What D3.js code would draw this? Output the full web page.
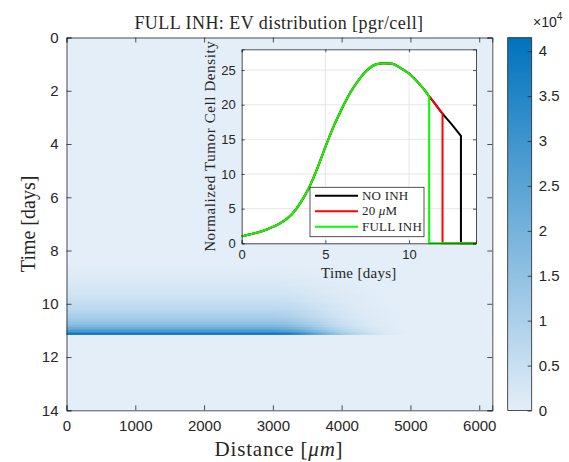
<!DOCTYPE html>
<html>
<head>
<meta charset="utf-8">
<script src="https://cdn.jsdelivr.net/npm/d3@7"></script>
<style>
  body { margin: 0; background: #fff; }
  text { fill: #262626; }
  .sans { font-family: "Liberation Sans", Arial, sans-serif; }
  .serif { font-family: "Liberation Serif", "Times New Roman", serif; }
</style>
</head>
<body>
<svg id="fig" width="569" height="462"></svg>
<script>
// inset: normalized tumor cell density over time
var timeDays = [0, 0.5, 1, 1.5, 2, 2.5, 3, 3.5, 4, 4.5, 5, 5.5, 6, 6.5, 7, 7.5, 8, 8.5, 9, 9.5, 10, 10.5, 11, 11.2, 11.5, 12, 12.5, 13, 13.1]
var densityNoInh = [1.0, 1.3, 1.6, 2.0, 2.5, 3.2, 4.2, 5.8, 7.9, 10.7, 13.9, 16.9, 19.5, 21.8, 23.6, 25.0, 25.8, 26.0, 25.9, 25.3, 24.5, 23.3, 21.9, 21.2, 20.3, 18.7, 17.3, 15.8, 15.5]
var seriesNames = ["NO INH", "20 \u03bcM", "FULL INH"]
var seriesCutoff = [13.1, 12.0, 11.2]   // day the density drops to zero
var seriesColors = ["#000000", "#ff0000", "#00ff00"]
var insetXTicks = [0, 5, 10]
var insetYTicks = [0, 5, 10, 15, 20, 25]

// main map: EV distribution, rows in time (top edge of each row), x10^4 pgr/cell at small distance
var evRowTimes = [8.57, 8.67, 8.77, 8.87, 8.97, 9.07, 9.17, 9.27, 9.37, 9.47, 9.57, 9.67, 9.77, 9.87, 9.97, 10.07, 10.17, 10.27, 10.37, 10.47, 10.57, 10.67, 10.77, 10.87, 10.97, 11.07]
var evRowEnd = 11.17
var evRowValues = [0.03, 0.05, 0.07, 0.09, 0.12, 0.15, 0.18, 0.22, 0.26, 0.30, 0.35, 0.40, 0.46, 0.52, 0.60, 0.68, 0.77, 0.87, 0.99, 1.13, 1.30, 1.52, 1.80, 2.20, 2.80, 3.90]
// relative strength along distance
var evDistances = [0, 3000, 3200, 3400, 3600, 3800, 4000, 4200, 4400, 4600, 4800, 5000, 6190]
var evFade = [1.0, 1.0, 0.95, 0.82, 0.65, 0.48, 0.33, 0.21, 0.12, 0.06, 0.02, 0.0, 0.0]

var mainXTicks = [0, 1000, 2000, 3000, 4000, 5000, 6000]
var mainYTicks = [0, 2, 4, 6, 8, 10, 12, 14]
var cbarTicks = [0, 0.5, 1, 1.5, 2, 2.5, 3, 3.5, 4]
var cbarMax = 4.15

var svg = d3.select("#fig")
var defs = svg.append("defs")
var axisColor = "#262626"

var color = d3.scaleLinear().domain([0, cbarMax]).range(["#e3eef8", "#0072bd"])

// ---- main axes
var mx = d3.scaleLinear().domain([0, 6190]).range([66.5, 492.3])
var my = d3.scaleLinear().domain([0, 14]).range([37.5, 410.3])

svg.append("rect")
    .attr("x", mx(0)).attr("y", my(0))
    .attr("width", mx(6190) - mx(0)).attr("height", my(14) - my(0))
    .attr("fill", color(0))

evRowTimes.forEach(function (t, i) {
  var t2 = i < evRowTimes.length - 1 ? evRowTimes[i + 1] : evRowEnd
  var g = defs.append("linearGradient")
      .attr("id", "row" + i)
      .attr("gradientUnits", "userSpaceOnUse")
      .attr("x1", mx(0)).attr("x2", mx(6190)).attr("y1", 0).attr("y2", 0)
  evDistances.forEach(function (d, j) {
    g.append("stop")
        .attr("offset", d / 6190)
        .attr("stop-color", color(evRowValues[i] * evFade[j]))
  })
  svg.append("rect")
      .attr("x", mx(0)).attr("y", my(t))
      .attr("width", mx(6190) - mx(0))
      .attr("height", my(t2) - my(t) + (i < evRowTimes.length - 1 ? 0.4 : 0))
      .attr("fill", "url(#row" + i + ")")
})

var mainG = svg.append("g")
mainG.append("g")
    .attr("transform", "translate(0," + my(14) + ")")
    .call(d3.axisBottom(mx).tickValues(mainXTicks).tickSize(-5).tickPadding(10).tickFormat(d3.format("d")))
mainG.append("g")
    .attr("transform", "translate(0," + my(0) + ")")
    .call(d3.axisTop(mx).tickValues(mainXTicks).tickSize(-5).tickFormat(""))
mainG.append("g")
    .attr("transform", "translate(" + mx(0) + ",0)")
    .call(d3.axisLeft(my).tickValues(mainYTicks).tickSize(-5).tickPadding(8))
mainG.append("g")
    .attr("transform", "translate(" + mx(6190) + ",0)")
    .call(d3.axisRight(my).tickValues(mainYTicks).tickSize(-5).tickFormat(""))
mainG.selectAll(".domain").attr("stroke", axisColor).attr("stroke-width", 0.8)
mainG.selectAll(".tick line").attr("stroke", axisColor).attr("stroke-width", 0.8)
mainG.selectAll(".tick text").attr("class", "sans").style("font-size", "15px").attr("fill", axisColor)

svg.append("text").attr("class", "serif")
    .attr("x", 279).attr("y", 29).attr("text-anchor", "middle")
    .style("font-size", "18px").style("letter-spacing", "0.45px")
    .text("FULL INH: EV distribution [pgr/cell]")

svg.append("text").attr("class", "serif")
    .attr("transform", "translate(35," + my(7) + ") rotate(-90)")
    .attr("text-anchor", "middle").style("font-size", "20px")
    .text("Time [days]")

var xl = svg.append("text").attr("class", "serif")
    .attr("x", 279).attr("y", 456).attr("text-anchor", "middle")
    .style("font-size", "21px").style("letter-spacing", "0.8px")
xl.append("tspan").text("Distance [")
xl.append("tspan").style("font-style", "italic").text("\u03bcm")
xl.append("tspan").text("]")

// ---- colorbar
var cb = { x: 507.7, w: 24 }
var cy = d3.scaleLinear().domain([0, cbarMax]).range([410.5, 37.7])
var cg = defs.append("linearGradient").attr("id", "cbar")
    .attr("x1", 0).attr("x2", 0).attr("y1", 1).attr("y2", 0)
cg.append("stop").attr("offset", 0).attr("stop-color", color(0))
cg.append("stop").attr("offset", 1).attr("stop-color", color(cbarMax))
svg.append("rect")
    .attr("x", cb.x).attr("y", cy(cbarMax))
    .attr("width", cb.w).attr("height", cy(0) - cy(cbarMax))
    .attr("fill", "url(#cbar)")
    .attr("stroke", axisColor).attr("stroke-width", 0.8)
var cbAxis = svg.append("g")
    .attr("transform", "translate(" + (cb.x + cb.w) + ",0)")
    .call(d3.axisRight(cy).tickValues(cbarTicks).tickSize(-4).tickPadding(7).tickFormat(d3.format("")))
cbAxis.select(".domain").remove()
cbAxis.selectAll(".tick line").attr("stroke", axisColor).attr("stroke-width", 0.8)
cbAxis.selectAll(".tick text").attr("class", "sans").style("font-size", "15px").attr("fill", axisColor)

var exp = svg.append("text").attr("class", "sans").attr("x", 533).attr("y", 27).style("font-size", "14px")
exp.append("tspan").text("\u00d710")
exp.append("tspan").attr("dy", -7).style("font-size", "10px").text("4")

// ---- inset
var ix = d3.scaleLinear().domain([0, 14]).range([241.7, 476])
var iy = d3.scaleLinear().domain([0, 28]).range([243.3, 49.3])

svg.append("rect")
    .attr("x", ix(0)).attr("y", iy(28))
    .attr("width", ix(14) - ix(0)).attr("height", iy(0) - iy(28))
    .attr("fill", "#fff")

var grid = svg.append("g")
grid.selectAll(".gx").data(insetXTicks).enter().append("line")
    .attr("x1", function (d) { return ix(d) }).attr("x2", function (d) { return ix(d) })
    .attr("y1", iy(0)).attr("y2", iy(28))
    .attr("stroke", "#dfdfdf").attr("stroke-width", 0.8)
grid.selectAll(".gy").data(insetYTicks).enter().append("line")
    .attr("x1", ix(0)).attr("x2", ix(14))
    .attr("y1", function (d) { return iy(d) }).attr("y2", function (d) { return iy(d) })
    .attr("stroke", "#dfdfdf").attr("stroke-width", 0.8)

var smooth = d3.line().curve(d3.curveMonotoneX)
    .x(function (d) { return ix(d[0]) }).y(function (d) { return iy(d[1]) })
var straight = d3.line()
    .x(function (d) { return ix(d[0]) }).y(function (d) { return iy(d[1]) })
seriesNames.forEach(function (name, k) {
  var pts = []
  timeDays.forEach(function (t, i) {
    if (t <= seriesCutoff[k] + 1e-9) pts.push([t, densityNoInh[i]])
  })
  var last = pts[pts.length - 1]
  var tail = [last, [seriesCutoff[k], 0], [14, 0]]
  var path = smooth(pts) + straight(tail).replace(/^M/, "L")
  svg.append("path")
      .attr("d", path)
      .attr("fill", "none")
      .attr("stroke", seriesColors[k])
      .attr("stroke-width", 2)
})

var insetG = svg.append("g")
insetG.append("g")
    .attr("transform", "translate(0," + iy(0) + ")")
    .call(d3.axisBottom(ix).tickValues(insetXTicks).tickSize(-3).tickPadding(6))
insetG.append("g")
    .attr("transform", "translate(0," + iy(28) + ")")
    .call(d3.axisTop(ix).tickValues(insetXTicks).tickSize(-3).tickFormat(""))
insetG.append("g")
    .attr("transform", "translate(" + ix(0) + ",0)")
    .call(d3.axisLeft(iy).tickValues(insetYTicks).tickSize(-3).tickPadding(6))
insetG.append("g")
    .attr("transform", "translate(" + ix(14) + ",0)")
    .call(d3.axisRight(iy).tickValues(insetYTicks).tickSize(-3).tickFormat(""))
insetG.selectAll(".domain").attr("stroke", axisColor).attr("stroke-width", 0.8)
insetG.selectAll(".tick line").attr("stroke", axisColor).attr("stroke-width", 0.8)
insetG.selectAll(".tick text").attr("class", "sans").style("font-size", "13px").attr("fill", axisColor)

svg.append("text").attr("class", "serif")
    .attr("x", (ix(0) + ix(14)) / 2).attr("y", 278).attr("text-anchor", "middle")
    .style("font-size", "15px").style("letter-spacing", "0.3px")
    .text("Time [days]")
svg.append("text").attr("class", "serif")
    .attr("transform", "translate(215," + (iy(0) + iy(28)) / 2 + ") rotate(-90)")
    .attr("text-anchor", "middle").style("font-size", "15px").style("letter-spacing", "0.6px")
    .text("Normalized Tumor Cell Density")

// legend
var lg = svg.append("g").attr("transform", "translate(310,187.3)")
lg.append("rect").attr("width", 114).attr("height", 49.4)
    .attr("fill", "#fff").attr("stroke", axisColor).attr("stroke-width", 0.8)
seriesNames.forEach(function (name, k) {
  var yy = 8.5 + k * 15.5
  lg.append("line").attr("x1", 5).attr("x2", 48).attr("y1", yy).attr("y2", yy)
      .attr("stroke", seriesColors[k]).attr("stroke-width", 2)
  var tx = lg.append("text").attr("class", "serif").attr("x", 52).attr("y", yy + 4)
      .style("font-size", "13px").style("letter-spacing", "0.2px")
  if (k === 1) {
    tx.append("tspan").text("20 ")
    tx.append("tspan").style("font-style", "italic").text("\u03bc")
    tx.append("tspan").text("M")
  } else {
    tx.text(name)
  }
})
</script>
</body>
</html>
